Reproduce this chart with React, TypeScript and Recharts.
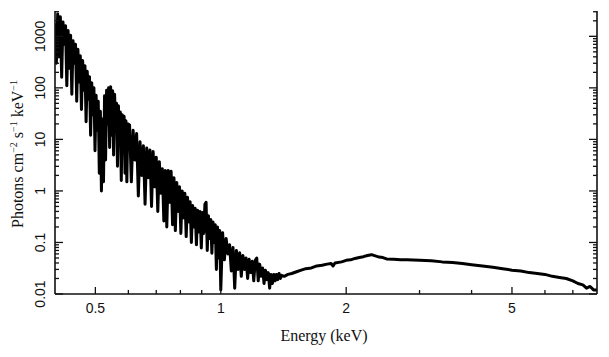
import React from 'react';
import { LineChart, Line, XAxis, YAxis } from 'recharts';

// soft band, 0.400 - 0.598 keV (very noisy)
const softEnergy = [
  0.400, 0.403, 0.406, 0.409, 0.412, 0.415, 0.418, 0.421, 0.424, 0.427,
  0.430, 0.433, 0.436, 0.439, 0.442, 0.445, 0.448, 0.451, 0.454, 0.457,
  0.460, 0.463, 0.466, 0.469, 0.472, 0.475, 0.478, 0.481, 0.484, 0.487,
  0.490, 0.493, 0.496, 0.499, 0.502, 0.505, 0.508, 0.511, 0.514, 0.517,
  0.520, 0.523, 0.526, 0.529, 0.532, 0.535, 0.538, 0.541, 0.544, 0.547,
  0.550, 0.553, 0.556, 0.559, 0.562, 0.565, 0.568, 0.571, 0.574, 0.577,
  0.580, 0.583, 0.586, 0.589, 0.592, 0.595, 0.598
];
const softFlux = [
  1800, 300, 2700, 400, 2400, 160, 1900, 700, 1600, 110,
  1300, 240, 1050, 75, 820, 300, 700, 55, 560, 130,
  420, 38, 340, 90, 270, 22, 210, 60, 165, 12,
  125, 30, 100, 6, 72, 15, 55, 2.2, 35, 1.0,
  25, 1.5, 70, 4, 90, 20, 100, 7, 105, 12,
  88, 5, 75, 18, 50, 3, 45, 8, 34, 1.6,
  30, 6, 28, 2.2, 23, 1.5, 20
];

// 0.604 - 1.000 keV
const midEnergy = [
  0.604, 0.610, 0.616, 0.622, 0.628, 0.634, 0.640, 0.646, 0.652, 0.658,
  0.664, 0.670, 0.676, 0.682, 0.688, 0.694, 0.700, 0.706, 0.712, 0.718,
  0.724, 0.730, 0.736, 0.742, 0.748, 0.754, 0.760, 0.766, 0.772, 0.778,
  0.784, 0.790, 0.796, 0.802, 0.808, 0.814, 0.820, 0.826, 0.832, 0.838,
  0.844, 0.850, 0.856, 0.862, 0.868, 0.874, 0.880, 0.886, 0.892, 0.898,
  0.904, 0.910, 0.916, 0.922, 0.928, 0.934, 0.940, 0.946, 0.952, 0.958,
  0.964, 0.970, 0.976, 0.982, 0.988, 0.994, 1.000
];
const midFlux = [
  19, 1.5, 15, 4, 13, 0.8, 9, 2, 7.5, 0.55,
  6.8, 1.8, 6.2, 0.5, 5.8, 1.2, 4.5, 0.4, 3.7, 0.9,
  2.7, 0.26, 2.5, 0.2, 2.5, 0.6, 2.4, 0.22, 1.8, 0.17,
  1.45, 0.4, 1.2, 0.15, 1.0, 0.3, 0.9, 0.13, 0.75, 0.25,
  0.62, 0.1, 0.52, 0.2, 0.46, 0.09, 0.42, 0.16, 0.4, 0.078,
  0.38, 0.15, 0.55, 0.6, 0.07, 0.33, 0.12, 0.28, 0.062, 0.25,
  0.1, 0.22, 0.03, 0.2, 0.05, 0.17, 0.012
];

// 1.01 - 1.40 keV, noise dying out
const kneeEnergy = [
  1.01, 1.02, 1.03, 1.04, 1.05, 1.06, 1.07, 1.08, 1.09, 1.10,
  1.11, 1.12, 1.13, 1.14, 1.15, 1.16, 1.17, 1.18, 1.19, 1.20,
  1.21, 1.22, 1.23, 1.24, 1.25, 1.26, 1.27, 1.28, 1.29, 1.30,
  1.31, 1.32, 1.33, 1.34, 1.35, 1.36, 1.37, 1.38, 1.39, 1.40
];
const kneeFlux = [
  0.155, 0.046, 0.12, 0.06, 0.09, 0.028, 0.08, 0.013, 0.07, 0.03,
  0.063, 0.022, 0.056, 0.03, 0.05, 0.02, 0.047, 0.026, 0.043, 0.018,
  0.045, 0.05, 0.018, 0.038, 0.022, 0.032, 0.016, 0.029, 0.019, 0.026,
  0.013, 0.024, 0.016, 0.024, 0.018, 0.024, 0.019, 0.025, 0.02, 0.023
];

// hard continuum
const hardEnergy = [
  1.42, 1.45, 1.48, 1.52, 1.56, 1.60, 1.65, 1.70, 1.75, 1.80,
  1.84, 1.86, 1.88, 1.95, 2.00, 2.05, 2.10, 2.15, 2.20, 2.25,
  2.30, 2.35, 2.40, 2.45, 2.50, 2.60, 2.70, 2.80, 3.00, 3.20,
  3.40, 3.60, 3.80, 4.00, 4.25, 4.50, 4.75, 5.00, 5.25, 5.50,
  5.75, 6.00, 6.25, 6.50, 6.75, 7.00, 7.20, 7.40, 7.55, 7.70,
  7.85, 8.00
];
const hardFlux = [
  0.022, 0.024, 0.025, 0.027, 0.029, 0.031, 0.032, 0.035, 0.036, 0.038,
  0.039, 0.035, 0.040, 0.042, 0.045, 0.046, 0.049, 0.051, 0.053, 0.056,
  0.058, 0.055, 0.052, 0.051, 0.048, 0.047, 0.046, 0.046, 0.045, 0.044,
  0.042, 0.041, 0.039, 0.037, 0.035, 0.033, 0.031, 0.029, 0.028, 0.026,
  0.025, 0.024, 0.022, 0.021, 0.020, 0.018, 0.016, 0.015, 0.013, 0.014,
  0.012, 0.012
];

const xMajor = [0.5, 1, 2, 5];
const xMinor = [0.6, 0.7, 0.8, 0.9, 3, 4, 6, 7];
const yMajor = [0.01, 0.1, 1, 10, 100, 1000];
const yMinorSteps = [2, 3, 4, 5, 6, 7, 8, 9];

const xTicks = [...xMajor, ...xMinor].sort((a, b) => a - b);
const yTicks = yMajor
  .flatMap((d) => [d, ...yMinorSteps.map((m) => d * m)])
  .filter((v) => v <= 3000);

const spectrum = [
  ...softEnergy.map((e, i) => ({ energy: e, flux: softFlux[i] })),
  ...midEnergy.map((e, i) => ({ energy: e, flux: midFlux[i] })),
  ...kneeEnergy.map((e, i) => ({ energy: e, flux: kneeFlux[i] })),
  ...hardEnergy.map((e, i) => ({ energy: e, flux: hardFlux[i] }))
];

const SANS = 'Liberation Sans, Arial, sans-serif';
const SERIF = 'Liberation Serif, Times New Roman, serif';
const INK = '#111';

const isMajorX = (v: number) => xMajor.includes(v);
const isMajorY = (v: number) => yMajor.includes(v);

const BottomTick = ({ x, y, payload }: any) => {
  const major = isMajorX(payload.value);
  return (
    <g>
      <line x1={x} y1={y} x2={x} y2={y - (major ? 7 : 4)} stroke={INK} strokeWidth={1.3} />
      {major && (
        <text x={x} y={y + 19} textAnchor="middle" fontFamily={SANS} fontSize={14} fill="#111">
          {payload.value}
        </text>
      )}
    </g>
  );
};

const TopTick = ({ x, y, payload }: any) => {
  const major = isMajorX(payload.value);
  return <line x1={x} y1={y} x2={x} y2={y + (major ? 7 : 4)} stroke={INK} strokeWidth={1.3} />;
};

const LeftTick = ({ x, y, payload }: any) => {
  const major = isMajorY(payload.value);
  return (
    <g>
      <line x1={x} y1={y} x2={x + (major ? 8 : 4)} y2={y} stroke={INK} strokeWidth={1.3} />
      {major && (
        <text
          transform={`translate(45, ${y}) rotate(-90)`}
          textAnchor="middle"
          fontFamily={SANS}
          fontSize={14}
          fill="#111"
        >
          {payload.value}
        </text>
      )}
    </g>
  );
};

const RightTick = ({ x, y, payload }: any) => {
  const major = isMajorY(payload.value);
  return <line x1={x} y1={y} x2={x - (major ? 8 : 4)} y2={y} stroke={INK} strokeWidth={1.3} />;
};

const YTitle = () => (
  <text
    transform="translate(23, 154) rotate(-90)"
    textAnchor="middle"
    fontFamily={SERIF}
    fontSize={16}
    fill="#111"
  >
    Photons cm<tspan dy={-6} fontSize={10}>−2</tspan>
    <tspan dy={6}> s</tspan>
    <tspan dy={-6} fontSize={10}>−1</tspan>
    <tspan dy={6}> keV</tspan>
    <tspan dy={-6} fontSize={10}>−1</tspan>
  </text>
);

const XTitle = () => (
  <text x={324} y={341} textAnchor="middle" fontFamily={SERIF} fontSize={16} fill="#111">
    Energy (keV)
  </text>
);

const axisLine = { stroke: INK, strokeWidth: 1.6 };

const App = () => (
  <div style={{ position: 'absolute', left: 0, top: 0, width: 609, height: 357, background: '#fff' }}>
    <LineChart
      width={609}
      height={357}
      data={spectrum}
      margin={{ top: 11, right: 0, bottom: 0, left: 0 }}
    >
      <XAxis
        xAxisId="bottom"
        dataKey="energy"
        type="number"
        scale="log"
        domain={[0.4, 8]}
        allowDataOverflow
        ticks={xTicks}
        interval={0}
        tickSize={0}
        tickMargin={0}
        tickLine={false}
        tick={<BottomTick />}
        axisLine={axisLine}
        height={63}
        orientation="bottom"
        label={<XTitle />}
      />
      <XAxis
        xAxisId="top"
        dataKey="energy"
        type="number"
        scale="log"
        domain={[0.4, 8]}
        allowDataOverflow
        ticks={xTicks}
        interval={0}
        tickSize={0}
        tickMargin={0}
        tickLine={false}
        tick={<TopTick />}
        axisLine={axisLine}
        height={0}
        orientation="top"
      />
      <YAxis
        yAxisId="left"
        type="number"
        scale="log"
        domain={[0.01, 3100]}
        allowDataOverflow
        ticks={yTicks}
        interval={0}
        tickSize={0}
        tickMargin={0}
        tickLine={false}
        tick={<LeftTick />}
        axisLine={axisLine}
        width={55}
        orientation="left"
        label={<YTitle />}
      />
      <YAxis
        yAxisId="right"
        type="number"
        scale="log"
        domain={[0.01, 3100]}
        allowDataOverflow
        ticks={yTicks}
        interval={0}
        tickSize={0}
        tickMargin={0}
        tickLine={false}
        tick={<RightTick />}
        axisLine={axisLine}
        width={12}
        orientation="right"
      />
      <Line
        xAxisId="bottom"
        yAxisId="left"
        dataKey="flux"
        type="linear"
        stroke="#000"
        strokeWidth={3}
        strokeLinejoin="round"
        dot={false}
        activeDot={false}
        isAnimationActive={false}
      />
      <Line
        xAxisId="top"
        yAxisId="right"
        dataKey="flux"
        stroke="none"
        dot={false}
        activeDot={false}
        isAnimationActive={false}
      />
    </LineChart>
  </div>
);

export default App;
